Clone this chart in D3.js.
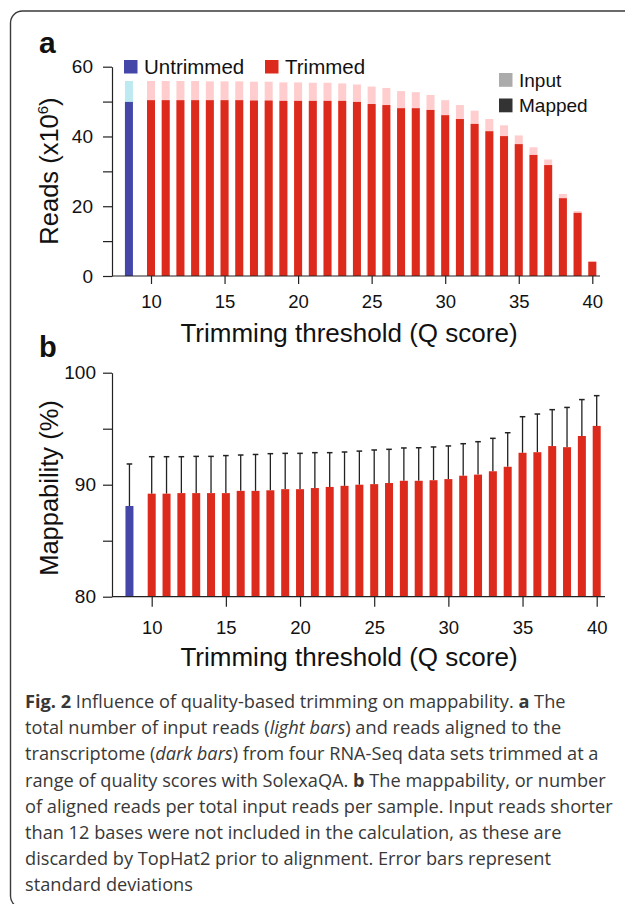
<!DOCTYPE html>
<html>
<head>
<meta charset="utf-8">
<script src="https://cdn.jsdelivr.net/npm/d3@7"></script>
<style>
  body { margin: 0; background: #fff; }
  svg { display: block; }
</style>
</head>
<body>
<svg id="fig" width="625" height="904"></svg>
<script>
// Q score thresholds for trimmed sets
const qScores = [10, 11, 12, 13, 14, 15, 16, 17, 18, 19, 20, 21, 22, 23, 24, 25,
  26, 27, 28, 29, 30, 31, 32, 33, 34, 35, 36, 37, 38, 39, 40];
const untrimmedPos = 8.5;

// panel a: reads (x10^6)
const untrimmedInput = 55.9;
const untrimmedMapped = 49.9;
const inputReads = [55.9, 55.9, 55.9, 55.9, 55.8, 55.8, 55.8, 55.7, 55.7, 55.5, 55.5,
  55.4, 55.4, 55.2, 54.9, 54.3, 53.9, 53.0, 52.7, 51.9, 50.4, 49.0, 47.4, 45.0, 43.2,
  40.3, 36.9, 33.4, 23.5, 18.6, 4.1];
const mappedReads = [50.4, 50.4, 50.4, 50.4, 50.4, 50.4, 50.4, 50.3, 50.3, 50.2, 50.2,
  50.2, 50.2, 50.2, 49.9, 49.3, 49.0, 48.1, 48.1, 47.6, 46.1, 45.0, 43.6, 41.5, 40.1,
  37.8, 34.7, 31.8, 22.3, 18.1, 4.1];

// panel b: mappability (%) and standard deviation
const untrimmedMap = 88.1;
const untrimmedSd = 3.75;
const mapMean = [89.2, 89.2, 89.25, 89.25, 89.25, 89.25, 89.45, 89.45, 89.5, 89.6, 89.6,
  89.7, 89.8, 89.9, 90.0, 90.05, 90.15, 90.35, 90.35, 90.4, 90.5, 90.8, 90.9, 91.2, 91.6,
  92.85, 92.9, 93.45, 93.35, 94.35, 95.25];
const mapSd = [3.3, 3.3, 3.25, 3.28, 3.28, 3.35, 3.2, 3.25, 3.27, 3.2, 3.2,
  3.16, 3.06, 3.02, 3.0, 3.05, 3.01, 2.93, 2.95, 2.97, 2.96, 2.86, 2.94, 2.94, 3.04,
  3.22, 3.41, 3.25, 3.55, 3.25, 2.7];

const readTicks = [0, 10, 20, 30, 40, 50, 60];
const mapTicks = [80, 85, 90, 95, 100];
const qTicks = [10, 15, 20, 25, 30, 35, 40];

const blue = "#4447a8", lightBlue = "#bdeaf0";
const red = "#dc2a1c", pink = "#ffcdcd";
const font = "'Liberation Sans', Arial, Helvetica, sans-serif";
const barW = 8;

const svg = d3.select("#fig");

// outer frame
svg.append("rect")
  .attr("x", 10.5).attr("y", 11).attr("width", 660).attr("height", 897)
  .attr("rx", 12).attr("fill", "none").attr("stroke", "#3a3a3a").attr("stroke-width", 1.4);

//----- PANEL A
const xA = d3.scaleLinear().domain([10, 40]).range([151, 592.3]);
const yA = d3.scaleLinear().domain([0, 60]).range([276, 66.7]);

const trimmed = qScores.map((q, i) => ({q: q, input: inputReads[i], mapped: mappedReads[i]}));

const gA = svg.append("g");
// light (input) bars first, then dark (mapped) on top
gA.append("rect")
  .attr("x", xA(untrimmedPos) - barW / 2).attr("width", barW)
  .attr("y", yA(untrimmedInput)).attr("height", yA(0) - yA(untrimmedInput))
  .attr("fill", lightBlue);
gA.append("rect")
  .attr("x", xA(untrimmedPos) - barW / 2).attr("width", barW)
  .attr("y", yA(untrimmedMapped)).attr("height", yA(0) - yA(untrimmedMapped))
  .attr("fill", blue);
gA.selectAll(".inp").data(trimmed).enter().append("rect")
  .attr("class", "inp")
  .attr("x", d => xA(d.q) - barW / 2).attr("width", barW)
  .attr("y", d => yA(d.input)).attr("height", d => yA(0) - yA(d.input))
  .attr("fill", pink);
gA.selectAll(".map").data(trimmed).enter().append("rect")
  .attr("class", "map")
  .attr("x", d => xA(d.q) - barW / 2).attr("width", barW)
  .attr("y", d => yA(d.mapped)).attr("height", d => yA(0) - yA(d.mapped))
  .attr("fill", red);

function styleAxis(g, size) {
  g.selectAll("line").attr("stroke", "#222").attr("stroke-width", 1.2);
  g.selectAll("path").attr("stroke", "#222").attr("stroke-width", 1.2);
  g.selectAll("text").attr("font-family", font).attr("font-size", size).attr("fill", "#111");
}

const yAxisA = svg.append("g").attr("transform", "translate(112,0)")
  .call(d3.axisLeft(yA).tickValues(readTicks).tickSize(9).tickSizeOuter(0).tickPadding(10)
    .tickFormat(d => d % 20 === 0 ? d : ""));
styleAxis(yAxisA, 19);

svg.append("line").attr("x1", 112).attr("x2", 600).attr("y1", yA(0)).attr("y2", yA(0))
  .attr("stroke", "#222").attr("stroke-width", 1.2);
const xAxisA = svg.append("g").attr("transform", `translate(0,${yA(0)})`)
  .call(d3.axisBottom(xA).tickValues(qTicks).tickSize(8).tickPadding(10.5));
xAxisA.select(".domain").remove();
styleAxis(xAxisA, 18.5);

svg.append("text").attr("x", 349).attr("y", 342).attr("text-anchor", "middle")
  .attr("font-family", font).attr("font-size", 26).attr("fill", "#111")
  .text("Trimming threshold (Q score)");

const yTitleA = svg.append("text").attr("transform", "translate(58,171) rotate(-90)")
  .attr("text-anchor", "middle").attr("font-family", font).attr("font-size", 25.5).attr("fill", "#111");
yTitleA.append("tspan").text("Reads (x10");
yTitleA.append("tspan").attr("font-size", 15).attr("dy", -10).text("6");
yTitleA.append("tspan").attr("dy", 10).text(")");

svg.append("text").attr("x", 39).attr("y", 53).attr("font-family", font)
  .attr("font-weight", "bold").attr("font-size", 30).attr("fill", "#111").text("a");

// legends
const legA = [
  {label: "Untrimmed", color: blue, x: 124, y: 60},
  {label: "Trimmed", color: red, x: 265, y: 60}
];
legA.forEach(l => {
  svg.append("rect").attr("x", l.x).attr("y", l.y).attr("width", 13.5).attr("height", 13.5).attr("fill", l.color);
  svg.append("text").attr("x", l.x + 20).attr("y", l.y + 14).attr("font-family", font)
    .attr("font-size", 20.5).attr("fill", "#111").text(l.label);
});
const legB = [
  {label: "Input", color: "#ababab", y: 73},
  {label: "Mapped", color: "#333", y: 98.5}
];
legB.forEach(l => {
  svg.append("rect").attr("x", 499).attr("y", l.y).attr("width", 13.5).attr("height", 13.8).attr("fill", l.color);
  svg.append("text").attr("x", 519).attr("y", l.y + 13.7).attr("font-family", font)
    .attr("font-size", 19).attr("fill", "#111").text(l.label);
});

//----- PANEL B
const xB = d3.scaleLinear().domain([10, 40]).range([151.7, 596.7]);
const yB = d3.scaleLinear().domain([80, 100]).range([596.7, 372.7]);

const mapData = [{q: untrimmedPos, m: untrimmedMap, sd: untrimmedSd, c: blue}]
  .concat(qScores.map((q, i) => ({q: q, m: mapMean[i], sd: mapSd[i], c: red})));

const gB = svg.append("g");
// error bars (upper half only)
gB.selectAll(".err").data(mapData).enter().append("line")
  .attr("x1", d => xB(d.q)).attr("x2", d => xB(d.q))
  .attr("y1", d => yB(d.m)).attr("y2", d => yB(d.m + d.sd))
  .attr("stroke", "#222").attr("stroke-width", 1.3);
gB.selectAll(".cap").data(mapData).enter().append("line")
  .attr("x1", d => xB(d.q) - 2.8).attr("x2", d => xB(d.q) + 2.8)
  .attr("y1", d => yB(d.m + d.sd)).attr("y2", d => yB(d.m + d.sd))
  .attr("stroke", "#222").attr("stroke-width", 1.5);
gB.selectAll(".bar").data(mapData).enter().append("rect")
  .attr("x", d => xB(d.q) - barW / 2).attr("width", barW)
  .attr("y", d => yB(d.m)).attr("height", d => yB(80) - yB(d.m))
  .attr("fill", d => d.c);

const yAxisB = svg.append("g").attr("transform", "translate(112,0)")
  .call(d3.axisLeft(yB).tickValues(mapTicks).tickSize(9).tickSizeOuter(0).tickPadding(7)
    .tickFormat(d => d % 10 === 0 ? d : ""));
styleAxis(yAxisB, 19);

svg.append("line").attr("x1", 112).attr("x2", 605).attr("y1", yB(80)).attr("y2", yB(80))
  .attr("stroke", "#222").attr("stroke-width", 1.2);
const xAxisB = svg.append("g").attr("transform", `translate(0,${yB(80)})`)
  .call(d3.axisBottom(xB).tickValues(qTicks).tickSize(10).tickPadding(14));
xAxisB.select(".domain").remove();
styleAxis(xAxisB, 18.5);

svg.append("text").attr("x", 349).attr("y", 666).attr("text-anchor", "middle")
  .attr("font-family", font).attr("font-size", 26).attr("fill", "#111")
  .text("Trimming threshold (Q score)");

svg.append("text").attr("transform", "translate(58,488) rotate(-90)")
  .attr("text-anchor", "middle").attr("font-family", font).attr("font-size", 25.5).attr("fill", "#111")
  .text("Mappability (%)");

svg.append("text").attr("x", 39).attr("y", 357).attr("font-family", font)
  .attr("font-weight", "bold").attr("font-size", 29).attr("fill", "#111").text("b");

//----- CAPTION
const captionLines = [
  [["Fig. 2", "b"], [" Influence of quality-based trimming on mappability. ", ""], ["a", "b"], [" The", ""]],
  [["total number of input reads (", ""], ["light bars", "i"], [") and reads aligned to the", ""]],
  [["transcriptome (", ""], ["dark bars", "i"], [") from four RNA-Seq data sets trimmed at a", ""]],
  [["range of quality scores with SolexaQA. ", ""], ["b", "b"], [" The mappability, or number", ""]],
  [["of aligned reads per total input reads per sample. Input reads shorter", ""]],
  [["than 12 bases were not included in the calculation, as these are", ""]],
  [["discarded by TopHat2 prior to alignment. Error bars represent", ""]],
  [["standard deviations", ""]]
];

const capFont = "'Open Sans', 'Noto Sans', sans-serif";
captionLines.forEach((parts, i) => {
  const t = svg.append("text").attr("x", 25).attr("y", 708 + i * 26.2)
    .attr("font-family", capFont).attr("font-size", 18.2).attr("fill", "#383838");
  parts.forEach(p => {
    t.append("tspan").text(p[0])
      .attr("font-weight", p[1] === "b" ? "bold" : null)
      .attr("font-style", p[1] === "i" ? "italic" : null);
  });
});
</script>
</body>
</html>
